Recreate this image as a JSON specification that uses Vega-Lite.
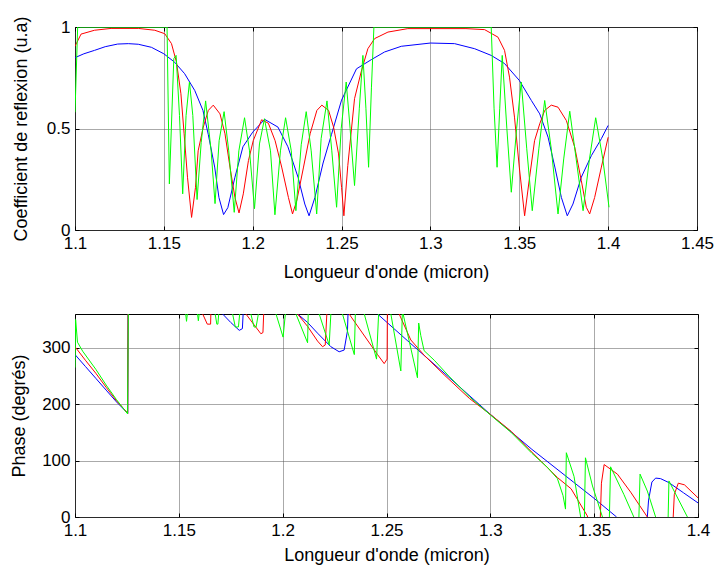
{
  "$schema": "https://vega.github.io/schema/vega-lite/v6.json",
  "background": "white",
  "padding": {"left": 10, "top": 15, "right": 5, "bottom": 5},
  "spacing": 84,
  "bounds": "flush",
  "config": {
    "font": "Liberation Sans",
    "view": {"stroke": "#000", "strokeWidth": 1},
    "axis": {
      "labelFont": "Liberation Sans", "labelFontSize": 17, "labelColor": "#000",
      "titleFont": "Liberation Sans", "titleFontSize": 18, "titleFontWeight": "normal", "titleColor": "#000",
      "domain": false, "ticks": true, "tickSize": -4, "tickColor": "#000",
      "gridColor": "#555", "gridDash": [1, 1], "gridOpacity": 1, "gridWidth": 1,
      "labelPadding": 8, "labelFlush": false, "labelOverlap": false
    }
  },
  "datasets": {
    "refl": [
      {"s":"b","x":1.1,"y":0.849},{"s":"b","x":1.105,"y":0.868},{"s":"b","x":1.111,"y":0.885},{"s":"b","x":1.117,"y":0.903},{"s":"b","x":1.124,"y":0.916},{"s":"b","x":1.13,"y":0.918},{"s":"b","x":1.1356,"y":0.915},{"s":"b","x":1.143,"y":0.9},{"s":"b","x":1.15,"y":0.868},{"s":"b","x":1.156,"y":0.827},{"s":"b","x":1.1617,"y":0.77},{"s":"b","x":1.1674,"y":0.687},{"s":"b","x":1.172,"y":0.589},{"s":"b","x":1.175,"y":0.47},{"s":"b","x":1.1786,"y":0.31},{"s":"b","x":1.181,"y":0.16},{"s":"b","x":1.1836,"y":0.076},{"s":"b","x":1.186,"y":0.11},{"s":"b","x":1.19,"y":0.26},{"s":"b","x":1.1945,"y":0.41},{"s":"b","x":1.2,"y":0.482},{"s":"b","x":1.2067,"y":0.545},{"s":"b","x":1.2142,"y":0.507},{"s":"b","x":1.2198,"y":0.41},{"s":"b","x":1.2255,"y":0.26},{"s":"b","x":1.2293,"y":0.128},{"s":"b","x":1.2317,"y":0.07},{"s":"b","x":1.235,"y":0.16},{"s":"b","x":1.2396,"y":0.33},{"s":"b","x":1.2443,"y":0.47},{"s":"b","x":1.25,"y":0.64},{"s":"b","x":1.2584,"y":0.794},{"s":"b","x":1.2667,"y":0.839},{"s":"b","x":1.2742,"y":0.877},{"s":"b","x":1.2836,"y":0.905},{"s":"b","x":1.3,"y":0.921},{"s":"b","x":1.3136,"y":0.918},{"s":"b","x":1.3249,"y":0.893},{"s":"b","x":1.3342,"y":0.86},{"s":"b","x":1.3417,"y":0.82},{"s":"b","x":1.35,"y":0.737},{"s":"b","x":1.3568,"y":0.638},{"s":"b","x":1.3615,"y":0.572},{"s":"b","x":1.3662,"y":0.457},{"s":"b","x":1.37,"y":0.31},{"s":"b","x":1.3737,"y":0.16},{"s":"b","x":1.377,"y":0.07},{"s":"b","x":1.3802,"y":0.128},{"s":"b","x":1.3849,"y":0.26},{"s":"b","x":1.3906,"y":0.367},{"s":"b","x":1.3962,"y":0.45},{"s":"b","x":1.4,"y":0.515},
      {"s":"r","x":1.1,"y":0.905},{"s":"r","x":1.1034,"y":0.965},{"s":"r","x":1.111,"y":0.984},{"s":"r","x":1.1203,"y":0.993},{"s":"r","x":1.1356,"y":0.993},{"s":"r","x":1.1449,"y":0.984},{"s":"r","x":1.1505,"y":0.967},{"s":"r","x":1.1543,"y":0.918},{"s":"r","x":1.1571,"y":0.827},{"s":"r","x":1.1596,"y":0.671},{"s":"r","x":1.1614,"y":0.474},{"s":"r","x":1.1633,"y":0.26},{"s":"r","x":1.1656,"y":0.062},{"s":"r","x":1.1678,"y":0.21},{"s":"r","x":1.1693,"y":0.39},{"s":"r","x":1.1722,"y":0.507},{"s":"r","x":1.175,"y":0.589},{"s":"r","x":1.1778,"y":0.615},{"s":"r","x":1.1816,"y":0.572},{"s":"r","x":1.1844,"y":0.474},{"s":"r","x":1.1872,"y":0.31},{"s":"r","x":1.19,"y":0.16},{"s":"r","x":1.1923,"y":0.084},{"s":"r","x":1.1947,"y":0.178},{"s":"r","x":1.1976,"y":0.342},{"s":"r","x":1.2003,"y":0.44},{"s":"r","x":1.205,"y":0.543},{"s":"r","x":1.2088,"y":0.526},{"s":"r","x":1.2126,"y":0.44},{"s":"r","x":1.2163,"y":0.31},{"s":"r","x":1.2201,"y":0.16},{"s":"r","x":1.2224,"y":0.079},{"s":"r","x":1.2248,"y":0.145},{"s":"r","x":1.2286,"y":0.31},{"s":"r","x":1.2323,"y":0.474},{"s":"r","x":1.2361,"y":0.589},{"s":"r","x":1.2389,"y":0.615},{"s":"r","x":1.2427,"y":0.589},{"s":"r","x":1.2455,"y":0.507},{"s":"r","x":1.2483,"y":0.375},{"s":"r","x":1.25,"y":0.21},{"s":"r","x":1.2513,"y":0.07},{"s":"r","x":1.2535,"y":0.317},{"s":"r","x":1.2573,"y":0.647},{"s":"r","x":1.261,"y":0.778},{"s":"r","x":1.2648,"y":0.893},{"s":"r","x":1.2686,"y":0.943},{"s":"r","x":1.2761,"y":0.975},{"s":"r","x":1.2873,"y":0.992},{"s":"r","x":1.32,"y":0.992},{"s":"r","x":1.3305,"y":0.987},{"s":"r","x":1.338,"y":0.95},{"s":"r","x":1.3417,"y":0.885},{"s":"r","x":1.3445,"y":0.753},{"s":"r","x":1.3473,"y":0.556},{"s":"r","x":1.35,"y":0.31},{"s":"r","x":1.353,"y":0.07},{"s":"r","x":1.3558,"y":0.26},{"s":"r","x":1.3586,"y":0.44},{"s":"r","x":1.3615,"y":0.523},{"s":"r","x":1.3643,"y":0.589},{"s":"r","x":1.368,"y":0.615},{"s":"r","x":1.3718,"y":0.605},{"s":"r","x":1.3765,"y":0.539},{"s":"r","x":1.3812,"y":0.408},{"s":"r","x":1.3849,"y":0.243},{"s":"r","x":1.3877,"y":0.112},{"s":"r","x":1.3896,"y":0.079},{"s":"r","x":1.3924,"y":0.16},{"s":"r","x":1.3962,"y":0.31},{"s":"r","x":1.4,"y":0.457},
      {"s":"g","x":1.1,"y":0.58},{"s":"g","x":1.1015,"y":1.0},{"s":"g","x":1.1518,"y":1.0},{"s":"g","x":1.1531,"y":0.227},{"s":"g","x":1.1556,"y":0.844},{"s":"g","x":1.1569,"y":0.86},{"s":"g","x":1.1588,"y":0.564},{"s":"g","x":1.1606,"y":0.178},{"s":"g","x":1.1625,"y":0.564},{"s":"g","x":1.1644,"y":0.729},{"s":"g","x":1.1663,"y":0.564},{"s":"g","x":1.1687,"y":0.15},{"s":"g","x":1.171,"y":0.43},{"s":"g","x":1.1735,"y":0.636},{"s":"g","x":1.1766,"y":0.39},{"s":"g","x":1.1788,"y":0.13},{"s":"g","x":1.1811,"y":0.44},{"s":"g","x":1.1839,"y":0.583},{"s":"g","x":1.1865,"y":0.39},{"s":"g","x":1.1896,"y":0.087},{"s":"g","x":1.1922,"y":0.39},{"s":"g","x":1.1954,"y":0.553},{"s":"g","x":1.1982,"y":0.39},{"s":"g","x":1.201,"y":0.105},{"s":"g","x":1.2038,"y":0.424},{"s":"g","x":1.2066,"y":0.548},{"s":"g","x":1.21,"y":0.39},{"s":"g","x":1.2125,"y":0.075},{"s":"g","x":1.2156,"y":0.39},{"s":"g","x":1.2185,"y":0.553},{"s":"g","x":1.2217,"y":0.39},{"s":"g","x":1.2243,"y":0.095},{"s":"g","x":1.2273,"y":0.42},{"s":"g","x":1.2301,"y":0.583},{"s":"g","x":1.2329,"y":0.39},{"s":"g","x":1.236,"y":0.079},{"s":"g","x":1.2385,"y":0.45},{"s":"g","x":1.2418,"y":0.636},{"s":"g","x":1.2445,"y":0.39},{"s":"g","x":1.2472,"y":0.112},{"s":"g","x":1.2498,"y":0.5},{"s":"g","x":1.2526,"y":0.729},{"s":"g","x":1.2548,"y":0.5},{"s":"g","x":1.2573,"y":0.219},{"s":"g","x":1.26,"y":0.6},{"s":"g","x":1.262,"y":0.86},{"s":"g","x":1.2637,"y":0.6},{"s":"g","x":1.2652,"y":0.309},{"s":"g","x":1.2668,"y":0.7},{"s":"g","x":1.2682,"y":1.0},{"s":"g","x":1.3342,"y":1.0},{"s":"g","x":1.3358,"y":0.6},{"s":"g","x":1.3375,"y":0.309},{"s":"g","x":1.339,"y":0.6},{"s":"g","x":1.3404,"y":0.86},{"s":"g","x":1.343,"y":0.5},{"s":"g","x":1.3455,"y":0.186},{"s":"g","x":1.3485,"y":0.5},{"s":"g","x":1.3511,"y":0.729},{"s":"g","x":1.3542,"y":0.4},{"s":"g","x":1.3573,"y":0.095},{"s":"g","x":1.361,"y":0.4},{"s":"g","x":1.3643,"y":0.638},{"s":"g","x":1.368,"y":0.4},{"s":"g","x":1.3718,"y":0.079},{"s":"g","x":1.375,"y":0.35},{"s":"g","x":1.3784,"y":0.585},{"s":"g","x":1.382,"y":0.35},{"s":"g","x":1.3859,"y":0.095},{"s":"g","x":1.3895,"y":0.35},{"s":"g","x":1.393,"y":0.553},{"s":"g","x":1.397,"y":0.35},{"s":"g","x":1.4005,"y":0.112}
    ],
    "phase": [
      {"s":"b","x":1.1,"y":288},{"s":"b","x":1.105,"y":267},{"s":"b","x":1.11,"y":246},{"s":"b","x":1.115,"y":225},{"s":"b","x":1.12,"y":204},{"s":"b","x":1.1254,"y":184},{"s":"b","x":1.1256,"y":420},{"s":"b","x":1.17,"y":420},{"s":"b","x":1.1711,"y":360},{"s":"b","x":1.175,"y":345},{"s":"b","x":1.1791,"y":331},{"s":"b","x":1.1806,"y":334},{"s":"b","x":1.1818,"y":420},{"s":"b","x":1.2065,"y":420},{"s":"b","x":1.2072,"y":360},{"s":"b","x":1.212,"y":345},{"s":"b","x":1.2168,"y":326},{"s":"b","x":1.2232,"y":302},{"s":"b","x":1.2272,"y":293},{"s":"b","x":1.2296,"y":296},{"s":"b","x":1.2312,"y":330},{"s":"b","x":1.232,"y":420},{"s":"b","x":1.245,"y":420},{"s":"b","x":1.2457,"y":360},{"s":"b","x":1.26,"y":313},{"s":"b","x":1.28,"y":248},{"s":"b","x":1.3,"y":182},{"s":"b","x":1.32,"y":120},{"s":"b","x":1.34,"y":62},{"s":"b","x":1.35,"y":33},{"s":"b","x":1.3608,"y":0},{"s":"b","x":1.362,"y":-20},{"s":"b","x":1.3752,"y":-20},{"s":"b","x":1.3762,"y":30},{"s":"b","x":1.3778,"y":62},{"s":"b","x":1.3796,"y":69},{"s":"b","x":1.382,"y":68},{"s":"b","x":1.386,"y":61},{"s":"b","x":1.393,"y":43},{"s":"b","x":1.4,"y":25},
      {"s":"r","x":1.1,"y":302},{"s":"r","x":1.105,"y":278},{"s":"r","x":1.11,"y":255},{"s":"r","x":1.115,"y":230},{"s":"r","x":1.12,"y":206},{"s":"r","x":1.1254,"y":184},{"s":"r","x":1.1256,"y":420},{"s":"r","x":1.161,"y":420},{"s":"r","x":1.1615,"y":360},{"s":"r","x":1.1637,"y":342},{"s":"r","x":1.1653,"y":342},{"s":"r","x":1.1658,"y":420},{"s":"r","x":1.182,"y":420},{"s":"r","x":1.1823,"y":360},{"s":"r","x":1.186,"y":342},{"s":"r","x":1.1895,"y":325},{"s":"r","x":1.1905,"y":327},{"s":"r","x":1.1915,"y":420},{"s":"r","x":1.206,"y":420},{"s":"r","x":1.2072,"y":360},{"s":"r","x":1.212,"y":338},{"s":"r","x":1.2168,"y":312},{"s":"r","x":1.2192,"y":302},{"s":"r","x":1.2205,"y":305},{"s":"r","x":1.2221,"y":420},{"s":"r","x":1.2315,"y":420},{"s":"r","x":1.232,"y":360},{"s":"r","x":1.2457,"y":288},{"s":"r","x":1.2489,"y":272},{"s":"r","x":1.2503,"y":280},{"s":"r","x":1.2505,"y":420},{"s":"r","x":1.2556,"y":420},{"s":"r","x":1.2561,"y":360},{"s":"r","x":1.2617,"y":314},{"s":"r","x":1.2681,"y":287},{"s":"r","x":1.2778,"y":252},{"s":"r","x":1.29,"y":210},{"s":"r","x":1.3,"y":182},{"s":"r","x":1.31,"y":152},{"s":"r","x":1.32,"y":115},{"s":"r","x":1.3323,"y":70},{"s":"r","x":1.3389,"y":50},{"s":"r","x":1.3467,"y":2},{"s":"r","x":1.348,"y":-20},{"s":"r","x":1.3528,"y":-20},{"s":"r","x":1.3535,"y":60},{"s":"r","x":1.3548,"y":93},{"s":"r","x":1.3612,"y":76},{"s":"r","x":1.3676,"y":44},{"s":"r","x":1.3756,"y":0},{"s":"r","x":1.377,"y":-20},{"s":"r","x":1.3878,"y":-20},{"s":"r","x":1.3886,"y":40},{"s":"r","x":1.3905,"y":60},{"s":"r","x":1.3935,"y":57},{"s":"r","x":1.4,"y":34},
      {"s":"g","x":1.1,"y":265},{"s":"g","x":1.1003,"y":350},{"s":"g","x":1.1012,"y":310},{"s":"g","x":1.1037,"y":294},{"s":"g","x":1.11,"y":262},{"s":"g","x":1.115,"y":234},{"s":"g","x":1.12,"y":208},{"s":"g","x":1.1253,"y":183},{"s":"g","x":1.1258,"y":420},{"s":"g","x":1.153,"y":420},{"s":"g","x":1.1533,"y":360},{"s":"g","x":1.1537,"y":347},{"s":"g","x":1.1541,"y":360},{"s":"g","x":1.1545,"y":420},{"s":"g","x":1.1586,"y":420},{"s":"g","x":1.159,"y":360},{"s":"g","x":1.1594,"y":348},{"s":"g","x":1.1598,"y":360},{"s":"g","x":1.1602,"y":420},{"s":"g","x":1.167,"y":420},{"s":"g","x":1.1675,"y":360},{"s":"g","x":1.1683,"y":342},{"s":"g","x":1.1688,"y":342},{"s":"g","x":1.1692,"y":360},{"s":"g","x":1.1696,"y":420},{"s":"g","x":1.1754,"y":420},{"s":"g","x":1.1759,"y":360},{"s":"g","x":1.1772,"y":337},{"s":"g","x":1.1787,"y":337},{"s":"g","x":1.1793,"y":360},{"s":"g","x":1.1797,"y":420},{"s":"g","x":1.1843,"y":420},{"s":"g","x":1.1847,"y":360},{"s":"g","x":1.1862,"y":337},{"s":"g","x":1.1872,"y":337},{"s":"g","x":1.1883,"y":360},{"s":"g","x":1.1887,"y":420},{"s":"g","x":1.1963,"y":420},{"s":"g","x":1.1968,"y":360},{"s":"g","x":1.2002,"y":319},{"s":"g","x":1.2013,"y":360},{"s":"g","x":1.2017,"y":420},{"s":"g","x":1.206,"y":420},{"s":"g","x":1.2064,"y":360},{"s":"g","x":1.212,"y":309},{"s":"g","x":1.2123,"y":360},{"s":"g","x":1.2127,"y":420},{"s":"g","x":1.2172,"y":420},{"s":"g","x":1.2176,"y":360},{"s":"g","x":1.2224,"y":305},{"s":"g","x":1.2232,"y":360},{"s":"g","x":1.2236,"y":420},{"s":"g","x":1.2284,"y":420},{"s":"g","x":1.2288,"y":360},{"s":"g","x":1.2345,"y":288},{"s":"g","x":1.235,"y":360},{"s":"g","x":1.2354,"y":420},{"s":"g","x":1.2389,"y":420},{"s":"g","x":1.2393,"y":360},{"s":"g","x":1.2452,"y":280},{"s":"g","x":1.2462,"y":360},{"s":"g","x":1.2466,"y":420},{"s":"g","x":1.2517,"y":420},{"s":"g","x":1.2521,"y":360},{"s":"g","x":1.2569,"y":259},{"s":"g","x":1.2576,"y":360},{"s":"g","x":1.2578,"y":420},{"s":"g","x":1.258,"y":360},{"s":"g","x":1.2649,"y":247},{"s":"g","x":1.2655,"y":344},{"s":"g","x":1.2665,"y":322},{"s":"g","x":1.2681,"y":295},{"s":"g","x":1.273,"y":278},{"s":"g","x":1.28,"y":250},{"s":"g","x":1.29,"y":213},{"s":"g","x":1.3,"y":181},{"s":"g","x":1.31,"y":150},{"s":"g","x":1.32,"y":113},{"s":"g","x":1.3275,"y":88},{"s":"g","x":1.3323,"y":68},{"s":"g","x":1.335,"y":38},{"s":"g","x":1.3362,"y":14},{"s":"g","x":1.3366,"y":114},{"s":"g","x":1.3403,"y":72},{"s":"g","x":1.3435,"y":0},{"s":"g","x":1.3445,"y":-20},{"s":"g","x":1.3452,"y":-20},{"s":"g","x":1.3458,"y":105},{"s":"g","x":1.3492,"y":55},{"s":"g","x":1.354,"y":0},{"s":"g","x":1.3545,"y":-20},{"s":"g","x":1.3572,"y":-20},{"s":"g","x":1.3579,"y":89},{"s":"g","x":1.3643,"y":40},{"s":"g","x":1.3691,"y":0},{"s":"g","x":1.37,"y":-20},{"s":"g","x":1.3714,"y":-20},{"s":"g","x":1.3721,"y":76},{"s":"g","x":1.3756,"y":46},{"s":"g","x":1.3796,"y":0},{"s":"g","x":1.3805,"y":-20},{"s":"g","x":1.3855,"y":-20},{"s":"g","x":1.386,"y":64},{"s":"g","x":1.3949,"y":0},{"s":"g","x":1.396,"y":-20},{"s":"g","x":1.4,"y":-20}
    ]
  },
  "vconcat": [
    {
      "width": 622, "height": 203,
      "data": {"name": "refl"},
      "layer": [
        {
          "mark": {"type": "line", "strokeWidth": 1, "clip": true},
          "encoding": {
            "x": {"field": "x", "type": "quantitative", "scale": {"domain": [1.1, 1.45], "nice": false, "zero": false},
                  "axis": {"title": "Longueur d'onde (micron)", "values": [1.1, 1.15, 1.2, 1.25, 1.3, 1.35, 1.4, 1.45], "format": ".2~f", "titlePadding": 12, "labelPadding": 9}},
            "y": {"field": "y", "type": "quantitative", "scale": {"domain": [0, 1], "nice": false},
                  "axis": {"title": "Coefficient de reflexion (u.a)", "values": [0, 0.5, 1], "format": ".1~f", "titlePadding": 16, "labelPadding": 9}},
            "color": {"field": "s", "type": "nominal", "scale": {"domain": ["b", "r", "g"], "range": ["#0000ff", "#ff0000", "#00ff00"]}, "legend": null}
          }
        },
        {
          "mark": {"type": "line", "opacity": 0},
          "encoding": {
            "x": {"field": "x", "type": "quantitative", "scale": {"domain": [1.1, 1.45], "nice": false, "zero": false},
                  "axis": {"orient": "top", "title": null, "labels": false, "grid": false, "values": [1.1, 1.15, 1.2, 1.25, 1.3, 1.35, 1.4, 1.45]}},
            "y": {"field": "y", "type": "quantitative", "scale": {"domain": [0, 1], "nice": false},
                  "axis": {"orient": "right", "title": null, "labels": false, "grid": false, "values": [0, 0.5, 1]}}
          }
        }
      ],
      "resolve": {"axis": {"x": "independent", "y": "independent"}}
    },
    {
      "width": 623, "height": 203,
      "data": {"name": "phase"},
      "layer": [
        {
          "mark": {"type": "line", "strokeWidth": 1, "clip": true},
          "encoding": {
            "x": {"field": "x", "type": "quantitative", "scale": {"domain": [1.1, 1.4], "nice": false, "zero": false},
                  "axis": {"title": "Longueur d'onde (micron)", "values": [1.1, 1.15, 1.2, 1.25, 1.3, 1.35, 1.4], "format": ".2~f", "titlePadding": 8, "labelPadding": 9}},
            "y": {"field": "y", "type": "quantitative", "scale": {"domain": [0, 360], "nice": false},
                  "axis": {"title": "Phase (degrés)", "values": [0, 100, 200, 300], "format": "d", "titlePadding": 13, "labelPadding": 9}},
            "color": {"field": "s", "type": "nominal", "scale": {"domain": ["b", "r", "g"], "range": ["#0000ff", "#ff0000", "#00ff00"]}, "legend": null}
          }
        },
        {
          "mark": {"type": "line", "opacity": 0},
          "encoding": {
            "x": {"field": "x", "type": "quantitative", "scale": {"domain": [1.1, 1.4], "nice": false, "zero": false},
                  "axis": {"orient": "top", "title": null, "labels": false, "grid": false, "values": [1.1, 1.15, 1.2, 1.25, 1.3, 1.35, 1.4]}},
            "y": {"field": "y", "type": "quantitative", "scale": {"domain": [0, 360], "nice": false},
                  "axis": {"orient": "right", "title": null, "labels": false, "grid": false, "values": [0, 100, 200, 300]}}
          }
        }
      ],
      "resolve": {"axis": {"x": "independent", "y": "independent"}}
    }
  ]
}
